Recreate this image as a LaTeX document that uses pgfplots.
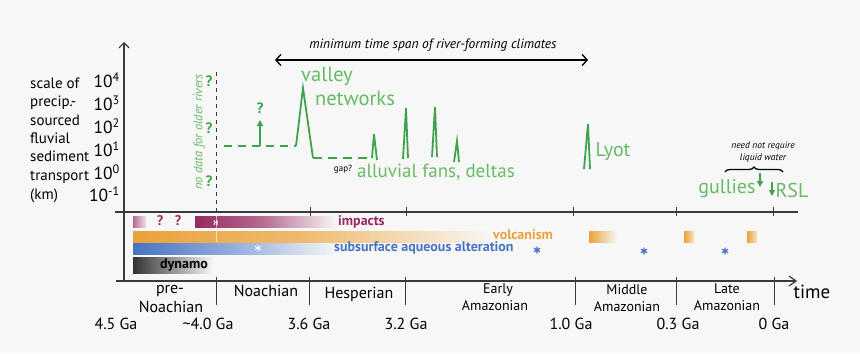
\documentclass[border=0pt]{standalone}
\usepackage{pgfplots}
\pgfplotsset{compat=1.18}
\usepackage{fontspec}
\setmainfont{PT Sans}
\usetikzlibrary{arrows.meta,decorations.pathreplacing}
\definecolor{bg}{HTML}{F7F7F7}
\definecolor{axc}{HTML}{3A3A3A}
\definecolor{grn}{HTML}{3FA34D}
\definecolor{grt}{HTML}{66BB66}
\definecolor{purp}{HTML}{962A60}
\definecolor{orng}{HTML}{E9A23B}
\definecolor{blu}{HTML}{4673C2}
\newcommand\fs[1]{\fontsize{#1bp}{#1bp}\selectfont}
\tikzset{lab/.style={inner sep=0pt, text height=0.7em, text depth=0pt}}
\begin{document}
\begin{tikzpicture}
\begin{axis}[
  width=860bp, height=353bp, scale only axis,
  xmin=0, xmax=860, ymin=0, ymax=353, y dir=reverse,
  hide axis, clip=false,
]
% background
\addplot[fill=bg, draw=none] coordinates {(0,0)(860,0)(860,353)(0,353)(0,0)};

% ---------- bars ----------
\addplot[draw=none, left color=purp!70, right color=purp!15] coordinates {(133,216)(146,216)(146,227)(133,227)(133,216)};
\addplot[draw=none, left color=purp, right color=purp!70] coordinates {(195,216)(262,216)(262,227)(195,227)(195,216)};
\addplot[draw=none, left color=purp!70, right color=bg] coordinates {(262,216)(337,216)(337,227)(262,227)(262,216)};
\addplot[draw=none, left color=orng, right color=orng!75] coordinates {(133,231)(300,231)(300,242)(133,242)(133,231)};
\addplot[draw=none, left color=orng!75, right color=bg] coordinates {(300,231)(495,231)(495,242)(300,242)(300,231)};
\addplot[draw=none, left color=orng, right color=bg] coordinates {(589,231)(617,231)(617,242)(589,242)(589,231)};
\addplot[draw=none, left color=orng, right color=orng!30] coordinates {(684,231)(694,231)(694,242)(684,242)(684,231)};
\addplot[draw=none, left color=orng, right color=orng!30] coordinates {(747,231)(757,231)(757,242)(747,242)(747,231)};
\addplot[draw=none, left color=blu, right color=blu!55] coordinates {(133,243)(240,243)(240,254)(133,254)(133,243)};
\addplot[draw=none, left color=blu!55, right color=bg] coordinates {(240,243)(337,243)(337,254)(240,254)(240,243)};
\addplot[draw=none, left color=black!80, right color=bg] coordinates {(133,257)(213,257)(213,273)(133,273)(133,257)};
\addplot[only marks, mark=asterisk, mark size=3.5bp, blu, line width=1.3bp] coordinates {(537,250)(644,251)(725,251)};
\addplot[only marks, mark=asterisk, mark size=3.5bp, white, line width=0.8bp] coordinates {(258,248)};

% ---------- axes ----------
\addplot[axc, line width=1.2bp, -{Straight Barb[length=5bp,width=10bp]}] coordinates {(124,281)(124,42)};
\addplot[axc, line width=1.2bp] coordinates {(115,212)(798,212)};
\addplot[axc, line width=1.2bp, -{Straight Barb[length=7bp,width=10bp]}] coordinates {(116,281)(797,281)};
% upper ticks
\addplot[axc, line width=1bp] coordinates {(310,207)(310,216)};
\addplot[axc, line width=1bp] coordinates {(406,207)(406,216)};
\addplot[axc, line width=1bp] coordinates {(573,207)(573,216)};
\addplot[axc, line width=1bp] coordinates {(676,207)(676,216)};
\addplot[axc, line width=1bp] coordinates {(773,207)(773,216)};
% lower ticks
\addplot[axc, line width=1bp] coordinates {(216,277)(216,305)};
\addplot[axc, line width=1bp] coordinates {(309,277)(309,305)};
\addplot[axc, line width=1bp] coordinates {(405,277)(405,305)};
\addplot[axc, line width=1bp] coordinates {(575,277)(575,305)};
\addplot[axc, line width=1bp] coordinates {(676,277)(676,305)};
\addplot[axc, line width=1bp] coordinates {(774,277)(774,305)};
% dashed vertical (no data)
\addplot[axc, line width=1bp, dash pattern=on 4bp off 4bp] coordinates {(216,72)(216,214)};
\addplot[white, opacity=0.6, line width=0.8bp] coordinates {(216,216)(216,242)};

% ---------- green river curve ----------
\addplot[grn, line width=1.8bp, dash pattern=on 8bp off 6bp] coordinates {(224,146)(296,146)};
\addplot[grn, line width=1.8bp] coordinates {(296,146)(303,88)(313,158)};
\addplot[grn, line width=1.8bp, dash pattern=on 9bp off 6bp] coordinates {(313,158)(372,158)};
\addplot[grn, line width=1.8bp] coordinates {(372,158)(374,134)(377,160)};
\addplot[grn, line width=1.8bp] coordinates {(403,159)(406,108)(408,158)};
\addplot[grn, line width=1.8bp] coordinates {(432,157)(435,107)(437,157)};
\addplot[grn, line width=1.8bp] coordinates {(454,162)(457,141)(459,162)};
\addplot[grn, line width=1.8bp] coordinates {(584,169)(588,124)(590,169)};
\addplot[grn, line width=1.8bp, -{Triangle[length=6bp,width=6bp]}] coordinates {(260,146)(260,120)};
\addplot[grn, line width=1.6bp, -{Triangle[length=6bp,width=6bp]}] coordinates {(760,173)(760,187)};
\addplot[grn, line width=1.6bp, -{Triangle[length=6bp,width=6bp]}] coordinates {(772,182)(772,196)};

% top double arrow
\addplot[black, line width=1.3bp, {Straight Barb[length=5bp,width=11bp]}-{Straight Barb[length=5bp,width=11bp]}] coordinates {(275,60)(588,60)};
% brace
\addplot[black, line width=1.3bp, decorate, decoration={brace, amplitude=5bp}] coordinates {(725,172)(783,172)};

% ---------- texts ----------
\node[lab, anchor=west, font=\fs{15}] at (axis cs:30,85) {scale of};
\node[lab, anchor=west, font=\fs{15}] at (axis cs:30,103) {precip.-};
\node[lab, anchor=west, font=\fs{15}] at (axis cs:30,122) {sourced};
\node[lab, anchor=west, font=\fs{15}] at (axis cs:30,140) {fluvial};
\node[lab, anchor=west, font=\fs{15}] at (axis cs:30,158) {sediment};
\node[lab, anchor=west, font=\fs{15}] at (axis cs:30,177) {transport};
\node[lab, anchor=west, font=\fs{15}] at (axis cs:30,196) {(km)};

\node[lab, anchor=east, font=\fs{17.5}] at (axis cs:120,84) {10\textsuperscript{4}};
\node[lab, anchor=east, font=\fs{17.5}] at (axis cs:120,107) {10\textsuperscript{3}};
\node[lab, anchor=east, font=\fs{17.5}] at (axis cs:120,130) {10\textsuperscript{2}};
\node[lab, anchor=east, font=\fs{17.5}] at (axis cs:120,153) {10\textsuperscript{1}};
\node[lab, anchor=east, font=\fs{17.5}] at (axis cs:120,176) {10\textsuperscript{0}};
\node[lab, anchor=east, font=\fs{17.5}] at (axis cs:120,198) {10\textsuperscript{-1}};

\node[lab, rotate=90, text=grt, font=\fs{12.5}\itshape] at (axis cs:199,132) {no data for older rivers};
\node[lab, text=grn, font=\fs{15}\bfseries] at (axis cs:209,83) {?};
\node[lab, text=grn, font=\fs{15}\bfseries] at (axis cs:209,130) {?};
\node[lab, text=grn, font=\fs{15}\bfseries] at (axis cs:209,183) {?};
\node[lab, text=grn, font=\fs{15}\bfseries] at (axis cs:260,110) {?};

\node[lab, font=\fs{13.5}\itshape] at (axis cs:433,45) {minimum time span of river-forming climates};
\node[lab, text=grt, font=\fs{20.5}] at (axis cs:327,78) {valley};
\node[lab, text=grt, font=\fs{20.5}] at (axis cs:355,102) {networks};
\node[lab, font=\fs{9}] at (axis cs:343,168) {gap?};
\node[lab, text=grt, font=\fs{19}] at (axis cs:436,174) {alluvial fans, deltas};
\node[lab, text=grt, font=\fs{20}] at (axis cs:613,153) {Lyot};
\node[lab, text=grt, font=\fs{20}] at (axis cs:727,190) {gullies};
\node[lab, text=grt, font=\fs{20}] at (axis cs:792,194) {RSL};
\node[lab, font=\fs{9.5}\itshape] at (axis cs:763,145) {need not require};
\node[lab, font=\fs{9.5}\itshape] at (axis cs:763,157) {liquid water};

\node[lab, text=purp, font=\fs{14}\bfseries] at (axis cs:160,222) {?};
\node[lab, text=purp, font=\fs{14}\bfseries] at (axis cs:178,222) {?};
\node[lab, text=white, font=\fs{7}\bfseries] at (axis cs:216,222) {H};
\node[lab, anchor=west, text=purp, font=\fs{14}\bfseries] at (axis cs:338,222) {impacts};
\node[lab, anchor=west, text=orng, font=\fs{14}\bfseries] at (axis cs:493,236) {volcanism};
\node[lab, anchor=west, text=blu, font=\fs{14}\bfseries] at (axis cs:334,248) {subsurface aqueous alteration};
\node[lab, anchor=west, font=\fs{14}\bfseries] at (axis cs:160,265) {dynamo};

\node[lab, font=\fs{16}] at (axis cs:170,290) {pre-};
\node[lab, font=\fs{16}] at (axis cs:171,309) {Noachian};
\node[lab, font=\fs{16}] at (axis cs:266,293) {Noachian};
\node[lab, font=\fs{16}] at (axis cs:359,295) {Hesperian};
\node[lab, font=\fs{14}] at (axis cs:498,290) {Early};
\node[lab, font=\fs{14}] at (axis cs:495,307) {Amazonian};
\node[lab, font=\fs{14}] at (axis cs:627,291) {Middle};
\node[lab, font=\fs{14}] at (axis cs:627,308) {Amazonian};
\node[lab, font=\fs{14}] at (axis cs:727,290) {Late};
\node[lab, font=\fs{14}] at (axis cs:727,307) {Amazonian};
\node[lab, font=\fs{19}] at (axis cs:812,295) {time};

\node[lab, font=\fs{16}] at (axis cs:116,326) {4.5 Ga};
\node[lab, font=\fs{16}] at (axis cs:208,326) {\textasciitilde4.0 Ga};
\node[lab, font=\fs{16}] at (axis cs:309,326) {3.6 Ga};
\node[lab, font=\fs{16}] at (axis cs:406,326) {3.2 Ga};
\node[lab, font=\fs{16}] at (axis cs:571,326) {1.0 Ga};
\node[lab, font=\fs{16}] at (axis cs:678,326) {0.3 Ga};
\node[lab, font=\fs{16}] at (axis cs:774,326) {0 Ga};
\end{axis}
\end{tikzpicture}
\end{document}
